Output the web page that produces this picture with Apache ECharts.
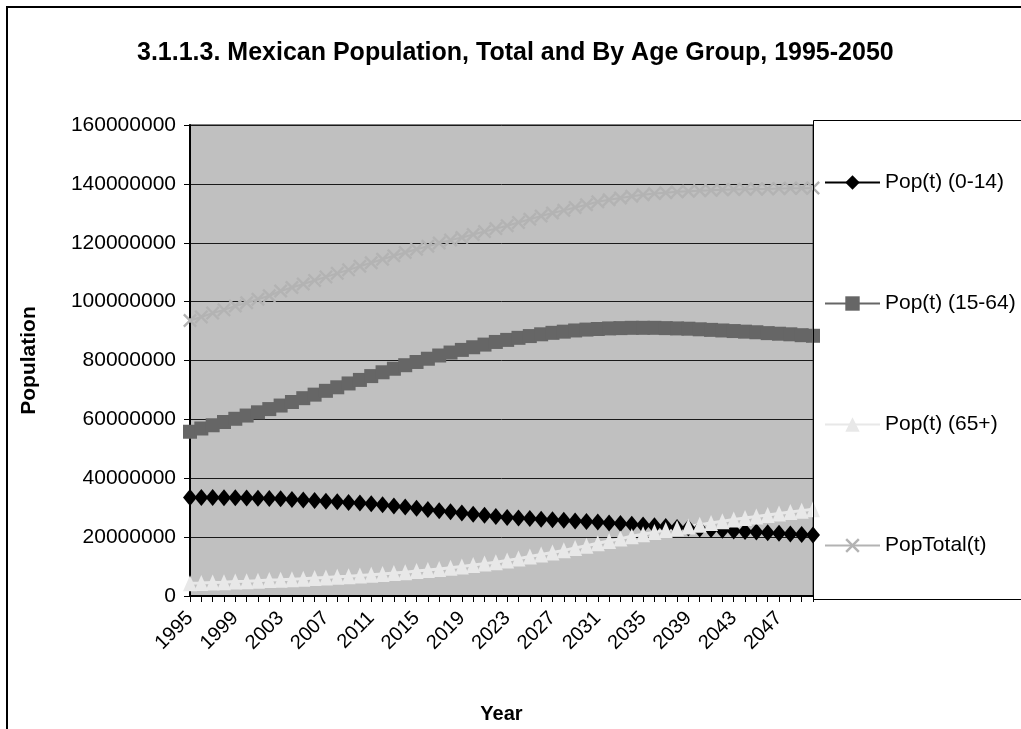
<!DOCTYPE html>
<html>
<head>
<meta charset="utf-8">
<script src="https://cdn.jsdelivr.net/npm/echarts@6/dist/echarts.min.js"></script>
<style>
html,body{margin:0;padding:0;background:#fff;}
#chart{width:1021px;height:729px;}
</style>
</head>
<body>
<div id="chart"></div>
<script>
// Values in millions of people
const years = [];
for (let y = 1995; y <= 2050; y++) years.push(String(y));

const pop0_14 = [33.5,33.5,33.5,33.4,33.4,33.3,33.2,33.1,33.0,32.8,32.6,32.4,32.2,32.0,31.8,31.6,31.3,31.0,30.6,30.2,29.8,29.4,29.0,28.6,28.2,27.8,27.4,27.0,26.7,26.5,26.3,26.1,25.9,25.7,25.5,25.3,25.1,24.8,24.6,24.4,24.1,23.9,23.6,23.3,23.1,22.8,22.6,22.3,22.1,21.9,21.7,21.5,21.3,21.1,20.9,20.7];
const pop15_64 = [55.8,56.9,58.0,59.1,60.2,61.3,62.4,63.5,64.7,65.9,67.2,68.4,69.7,70.9,72.2,73.4,74.7,76.0,77.2,78.4,79.5,80.6,81.7,82.7,83.6,84.5,85.4,86.3,87.0,87.7,88.3,88.9,89.4,89.8,90.2,90.5,90.7,90.9,91.0,91.1,91.1,91.1,91.0,90.9,90.8,90.6,90.4,90.2,90.0,89.8,89.6,89.3,89.1,88.9,88.6,88.4];
const pop65 = [4.3,4.4,4.6,4.7,4.9,5.0,5.2,5.4,5.5,5.7,5.9,6.1,6.3,6.5,6.7,7.0,7.2,7.5,7.8,8.1,8.5,8.8,9.2,9.6,10.0,10.5,11.0,11.5,12.1,12.7,13.4,14.1,14.8,15.5,16.3,17.1,17.9,18.7,19.5,20.3,21.0,21.7,22.4,23.0,23.6,24.2,24.8,25.4,26.0,26.5,27.0,27.5,28.0,28.5,29.0,29.5];
const popTotal = [93.6,94.8,96.1,97.2,98.5,99.6,100.8,102.0,103.6,104.8,106.0,107.2,108.4,109.6,110.8,112.0,113.2,114.4,115.6,116.7,117.8,118.8,119.9,120.9,121.8,122.8,123.8,124.8,125.8,126.9,128.0,129.1,130.1,131.0,132.0,132.9,133.9,134.6,135.2,135.8,136.3,136.7,137.0,137.3,137.5,137.7,137.8,138.0,138.1,138.2,138.3,138.3,138.4,138.5,138.5,138.6];

const UNIT = 1000000;
const seriesNames = ['Pop(t) (0-14)', 'Pop(t) (15-64)', 'Pop(t) (65+)', 'PopTotal(t)'];
const yTicks = { min: 0, max: 160000000, interval: 20000000 };

const FONT = '"Liberation Sans", Arial, sans-serif';
const xPath = 'path://M0,1.2L1.2,0L5,3.8L8.8,0L10,1.2L6.2,5L10,8.8L8.8,10L5,6.2L1.2,10L0,8.8L3.8,5Z';

const chart = echarts.init(document.getElementById('chart'), null, { renderer: 'canvas' });

function mk(name, arr, color, symbol, size, lw) {
  return {
    name: name,
    type: 'line',
    data: arr.map(v => v * UNIT),
    symbol: symbol,
    symbolSize: size,
    showAllSymbol: true,
    animation: false,
    itemStyle: { color: color },
    lineStyle: { color: color, width: lw },
    emphasis: { disabled: true }
  };
}

chart.setOption({
  animation: false,
  backgroundColor: '#ffffff',
  textStyle: { fontFamily: FONT },
  title: {
    text: '3.1.1.3. Mexican Population, Total and By Age Group, 1995-2050',
    left: 132,
    top: 36,
    textStyle: { fontFamily: FONT, fontSize: 25, fontWeight: 'bold', color: '#000' }
  },
  graphic: [
    { type: 'rect', z: 0, shape: { x: 7, y: 7, width: 1100, height: 800 }, style: { fill: 'none', stroke: '#000', lineWidth: 2 } },
    { type: 'rect', z: 10, shape: { x: 813.5, y: 120.5, width: 300, height: 479 }, style: { fill: 'none', stroke: '#000', lineWidth: 1 } }
  ],
  legend: {
    orient: 'vertical',
    left: 819,
    top: 167,
    itemWidth: 55,
    itemHeight: 18,
    itemGap: 100,
    data: seriesNames,
    textStyle: { fontFamily: FONT, fontSize: 21, color: '#000' }
  },
  grid: {
    left: 190, top: 125, right: 208, bottom: 131,
    show: true,
    backgroundColor: '#c0c0c0',
    borderColor: '#808080',
    borderWidth: 2
  },
  xAxis: {
    type: 'category',
    data: years,
    boundaryGap: false,
    name: 'Year',
    nameLocation: 'middle',
    nameGap: 108,
    nameTextStyle: { fontFamily: FONT, fontSize: 20, fontWeight: 'bold', color: '#000' },
    axisLine: { show: true, lineStyle: { color: '#000', width: 2 } },
    axisTick: { show: true, interval: 0, length: 6, lineStyle: { color: '#000', width: 1 } },
    axisLabel: { interval: 3, rotate: 45, margin: 19, fontFamily: FONT, fontSize: 20, color: '#000' },
    splitLine: { show: false }
  },
  yAxis: {
    type: 'value',
    min: yTicks.min,
    max: yTicks.max,
    interval: yTicks.interval,
    name: 'Population',
    nameLocation: 'middle',
    nameGap: 150,
    nameTextStyle: { fontFamily: FONT, fontSize: 21, fontWeight: 'bold', color: '#000' },
    axisLine: { show: true, lineStyle: { color: '#000', width: 2 } },
    axisTick: { show: true, length: 6, lineStyle: { color: '#000', width: 1 } },
    axisLabel: { margin: 14, fontFamily: FONT, fontSize: 21, color: '#000', formatter: v => String(v) },
    splitLine: { show: true, lineStyle: { color: '#1a1a1a', width: 1 } }
  },
  series: [
    mk(seriesNames[0], pop0_14, '#000000', 'diamond', [14, 17], 2),
    mk(seriesNames[1], pop15_64, '#666666', 'rect', 14, 2),
    mk(seriesNames[2], pop65, '#e8e8e8', 'triangle', [14, 16], 3),
    mk(seriesNames[3], popTotal, '#b3b3b3', xPath, 14, 2)
  ]
});
</script>
</body>
</html>
